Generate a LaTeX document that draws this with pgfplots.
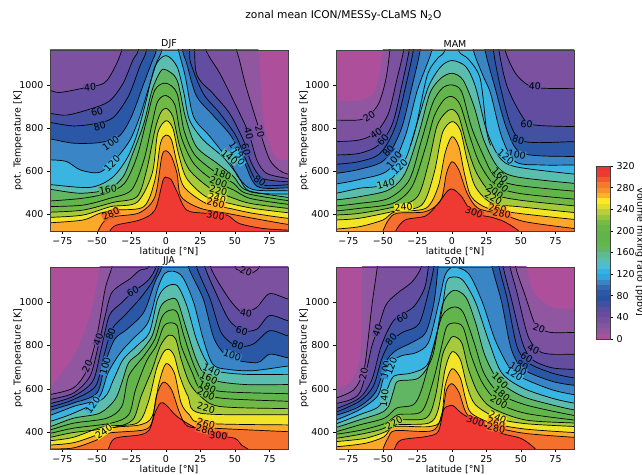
\documentclass[border=0pt]{standalone}
\usepackage{fontspec}
\setmainfont{DejaVu Sans}
\usepackage{pgfplots}
\pgfplotsset{compat=1.18}
\definecolor{c0}{HTML}{AE4F9B}\definecolor{c10}{HTML}{9057A0}\definecolor{c20}{HTML}{7C52A0}
\definecolor{c40}{HTML}{624DA0}\definecolor{c60}{HTML}{4450A2}\definecolor{c80}{HTML}{2A58A6}
\definecolor{c100}{HTML}{3A85C6}\definecolor{c120}{HTML}{3AB4E0}\definecolor{c140}{HTML}{5ABDAE}
\definecolor{c160}{HTML}{60B663}\definecolor{c180}{HTML}{61B54A}\definecolor{c200}{HTML}{70B946}
\definecolor{c220}{HTML}{A5CA3C}\definecolor{c240}{HTML}{F2E528}\definecolor{c260}{HTML}{FCA82A}
\definecolor{c280}{HTML}{F4702C}\definecolor{c300}{HTML}{EE3A33}
\newcommand\fillmode{\def\lv##1##2{\addplot[fill=##1,draw=none,smooth,tension=0.5] coordinates {##2} -- (axis cs:120,100) -- (axis cs:-120,100) -- cycle;}\let\bd\lv}
\newcommand\linemode{\def\lv##1##2{\addplot[black,line width=0.7pt,smooth,tension=0.5] coordinates {##2};}\def\bd##1##2{}}
\newcommand\cl[4]{\node[font=\fontsize{9.5}{10}\selectfont,fill=c#4,inner sep=0.3pt,rotate=#3] at (axis cs:#1,#2) {#4};}
\newcommand\cb[3]{\addplot[fill=#1,draw=none] coordinates {(0,#2)(1,#2)(1,#3)(0,#3)} --cycle;}
\newcommand\curvesDJF{%
\bd{c10}{(-90,1300)(60,1300)(67,1162)(69,950)(71,820)(79,668)(88,652)(95,650)}
\lv{c20}{(-90,1300)(40,1300)(51,1162)(58,992)(68,785)(75,655)(82,605)(88,587)(95,585)}
\lv{c40}{(-90,975)(-84,975)(-77,965)(-60,985)(-45,1008)(-38,1070)(-32,1162)(-28,1300)(26,1300)(29,1162)(39,1054)(51,900)(60,775)(66,650)(73,590)(88,567)(95,566)}
\lv{c60}{(-90,868)(-84,868)(-72,860)(-55,888)(-41,925)(-31,1008)(-24,1115)(-20,1162)(-17,1300)(17,1300)(22,1054)(34,961)(46,869)(56,745)(62,637)(70,567)(88,551)(95,550)}
\lv{c80}{(-90,826)(-84,826)(-67,810)(-50,822)(-38,850)(-27,950)(-19,1085)(-14,1162)(-12,1300)(14,1300)(17,1162)(18,1100)(27,960)(39,869)(51,760)(59,637)(68,540)(88,537)(95,537)}
\lv{c100}{(-90,750)(-84,750)(-67,730)(-48,733)(-34,762)(-25,853)(-16,1008)(-10,1110)(-7,1162)(-5,1300)(10,1300)(12,1162)(15,1100)(22,950)(34,860)(47,765)(56,653)(66,530)(88,523)(95,522)}
\lv{c120}{(-90,653)(-84,653)(-72,645)(-62,606)(-48,595)(-36,660)(-26,745)(-19,853)(-13,977)(-7,1100)(-3,1162)(-1,1300)(4,1300)(9,1162)(14,1039)(20,853)(32,760)(46,645)(53,567)(63,515)(88,509)(95,508)}
\lv{c140}{(-90,538)(-84,538)(-55,525)(-39,570)(-28,662)(-21,770)(-15,910)(-8,1085)(0,1136)(8,1085)(13,962)(17,838)(27,745)(41,668)(51,590)(61,505)(88,494)(95,493)}
\lv{c160}{(-90,516)(-84,516)(-62,498)(-42,516)(-31,575)(-24,683)(-16,822)(-10,977)(-4,1062)(0,1070)(8,1023)(14,853)(22,714)(37,637)(49,575)(58,513)(88,479)(95,479)}
\lv{c180}{(-90,462)(-84,462)(-60,475)(-43,498)(-30,544)(-21,668)(-14,838)(-8,977)(0,1008)(8,961)(13,791)(21,675)(37,590)(49,544)(58,498)(88,464)(95,464)}
\lv{c200}{(-90,436)(-84,436)(-60,443)(-41,474)(-25,513)(-16,652)(-10,822)(-6,923)(0,951)(6.5,907)(11,760)(20,637)(34,559)(49,513)(61,474)(88,447)(95,447)}
\lv{c220}{(-90,410)(-84,410)(-60,420)(-38,456)(-21,482)(-14,606)(-8,791)(-4,869)(0,892)(5,853)(10,714)(17,606)(32,521)(46,482)(61,451)(88,428)(95,428)}
\lv{c240}{(-90,386)(-84,386)(-60,397)(-40,436)(-21,456)(-10,590)(-6,776)(0,834)(5,799)(9,683)(15,567)(29,482)(46,451)(63,428)(88,408)(95,408)}
\lv{c260}{(-90,361)(-84,361)(-60,374)(-48,405)(-36,420)(-16,436)(-8,559)(-4,729)(0,768)(4,745)(8,637)(13,528)(29,451)(46,428)(63,405)(88,382)(95,382)}
\lv{c280}{(-90,250)(-54,250)(-50,312)(-45,366)(-37,390)(-19,408)(-8,482)(-3,668)(0,695)(4,668)(8,590)(11,482)(25,428)(44,405)(63,382)(88,354)(95,354)}
\lv{c300}{(-90,250)(-48,250)(-41,320)(-36,350)(-19,374)(-8,420)(-2,560)(1,570)(4,559)(8,505)(15,420)(29,405)(44,397)(53,358)(70,335)(88,327)(95,326)}
}
\newcommand\curvesMAM{%
\bd{c10}{(-90,927)(-84,927)(-67,927)(-57,960)(-52,1070)(-50,1162)(-49,1300)(95,1300)}
\lv{c20}{(-90,837)(-84,837)(-67,838)(-60,860)(-53,915)(-48,1023)(-45,1162)(-44,1300)(95,1300)}
\lv{c40}{(-90,737)(-84,737)(-67,745)(-55,780)(-46,869)(-40,1023)(-35,1162)(-33,1300)(37,1300)(38.5,1162)(46,1054)(55,1000)(65,985)(88,984)(95,984)}
\lv{c60}{(-90,675)(-84,675)(-67,683)(-53,722)(-43,822)(-36,1008)(-31,1162)(-29,1300)(33,1300)(34,1162)(40,992)(51,853)(59,815)(88,807)(95,807)}
\lv{c80}{(-90,632)(-84,632)(-67,645)(-52,683)(-41,807)(-32.5,1023)(-28,1162)(-26,1300)(29,1300)(30,1162)(35,992)(43,807)(53,737)(88,737)(95,737)}
\lv{c100}{(-90,590)(-84,590)(-67,609)(-49,652)(-37,791)(-29,992)(-23,1162)(-21,1300)(23,1300)(24,1162)(31,992)(40,791)(51,683)(88,668)(95,668)}
\lv{c120}{(-90,541)(-84,541)(-67,562)(-46,606)(-34,760)(-25,977)(-14.5,1162)(-12,1300)(13,1300)(15.5,1162)(22,1050)(28,960)(36,760)(46,644)(65,629)(88,629)(95,629)}
\lv{c120}{(-30,720)(-26,807)(-18,1042)(-11,1119)(-5,1162)(-2,1300)(2,1300)(4.5,1162)(12,1119)(20.5,1028)(25,791)(28,720)}
\lv{c140}{(-90,498)(-84,498)(-67,521)(-48,541)(-34,652)(-26,807)(-17,992)(-8,1085)(0,1113)(10,1085)(17,992)(25,791)(34,668)(46,621)(88,587)(95,587)}
\lv{c160}{(-90,467)(-84,467)(-67,482)(-46,513)(-34,590)(-24,776)(-16,961)(-8,1031)(0,1054)(8,1023)(16,900)(23,745)(33,621)(46,575)(88,544)(95,544)}
\lv{c180}{(-90,439)(-84,439)(-67,451)(-46,474)(-31,559)(-22,745)(-14,915)(-7,985)(0,1000)(7,969)(14,807)(22,683)(31,575)(46,536)(88,508)(95,508)}
\lv{c200}{(-90,416)(-84,416)(-67,428)(-43,451)(-29,528)(-19,714)(-13,853)(-6,930)(0,946)(6,907)(13,760)(20,637)(31,536)(48,498)(88,471)(95,471)}
\lv{c220}{(-90,397)(-84,397)(-67,405)(-41,436)(-25,482)(-17,637)(-11,807)(-5,869)(0,887)(5,853)(11,714)(18,590)(29,498)(48,467)(88,440)(95,440)}
\lv{c240}{(-90,374)(-84,374)(-67,382)(-43,413)(-22,443)(-13,590)(-7,776)(0,830)(6,791)(11,652)(17,528)(29,451)(48,436)(88,409)(95,409)}
\lv{c260}{(-90,332)(-84,332)(-67,343)(-50,374)(-41,413)(-19,428)(-10,528)(-5,683)(0,760)(5,714)(9,590)(14,482)(26,428)(48,405)(88,377)(95,377)}
\lv{c280}{(-90,250)(-54,250)(-50,323)(-46,374)(-40,405)(-19,413)(-8,467)(-4,590)(0,644)(5,606)(11,498)(19,428)(36,402)(53,366)(88,335)(95,334)}
\lv{c300}{(-90,250)(-44,250)(-41,320)(-34,374)(-19,393)(-10,451)(-3,510)(1,516)(7,482)(15,408)(29,386)(38,366)(48,325)(53,280)(95,250)}
}
\newcommand\curvesJJA{%
\bd{c10}{(-90,590)(-84,605)(-67,752)(-55,938)(-48,1162)(-46,1300)(95,1300)}
\lv{c20}{(-90,570)(-84,574)(-67,605)(-57,690)(-50,845)(-44,1062)(-39,1167)(-37,1300)(48,1300)(50,1167)(53,1147)(59,1127)(64,1140)(68,1170)(72,1300)(95,1300)}
\lv{c40}{(-90,545)(-84,551)(-67,581)(-55,659)(-49,799)(-44,938)(-39,1046)(-26,1108)(-19,1147)(-12,1167)(-10,1300)(31,1300)(32,1167)(44,1031)(53,961)(58,954)(66,977)(75,1039)(88,1015)(95,1012)}
\lv{c60}{(-90,528)(-84,532)(-67,566)(-53,636)(-47,783)(-41,938)(-33,992)(-24,1046)(-13,1100)(-7,1167)(-5,1300)(25,1300)(28,1167)(37,1031)(46,915)(56,868)(66,876)(75,938)(88,915)(95,912)}
\lv{c80}{(-90,512)(-84,516)(-67,551)(-51,613)(-45,752)(-39,876)(-30,938)(-19,1015)(-10,1093)(-5,1167)(-3,1300)(20,1300)(22,1167)(32,1015)(40,860)(51,798)(63,806)(75,868)(88,845)(95,843)}
\lv{c100}{(-90,497)(-84,501)(-67,535)(-50,581)(-44,721)(-37,830)(-28,876)(-16,954)(-8,1093)(-3,1163)(-1,1300)(14,1300)(16,1167)(27,1015)(35,830)(46,744)(66,721)(75,760)(88,744)(95,743)}
\lv{c120}{(-90,474)(-84,478)(-67,519)(-49,558)(-42,674)(-33,767)(-24,830)(-13,907)(-6,1062)(-1,1132)(5,1143)(12,1116)(20,1000)(27,830)(34,713)(45,690)(63,684)(88,705)(95,705)}
\lv{c140}{(-90,446)(-84,450)(-67,488)(-45,558)(-38,643)(-31,736)(-21,799)(-12,860)(-6,1015)(0,1070)(8,1077)(15,985)(22,830)(29,729)(37,682)(58,667)(88,667)(95,667)}
\lv{c160}{(-90,423)(-84,426)(-67,465)(-48,488)(-37,550)(-32,628)(-27,721)(-19,767)(-10,845)(-4,977)(2,1012)(8,1008)(14,892)(21,752)(27,675)(37,636)(58,620)(88,620)(95,620)}
\lv{c180}{(-90,409)(-84,411)(-67,442)(-43,465)(-32,519)(-27,659)(-16,752)(-8,830)(-3,930)(2,961)(8,954)(13,845)(20,713)(27,628)(39,589)(88,578)(95,578)}
\lv{c200}{(-90,393)(-84,395)(-67,419)(-40,442)(-27,481)(-22,597)(-14,729)(-7,799)(-2,884)(2,904)(8,892)(11,799)(19,675)(25,597)(39,558)(88,543)(95,543)}
\lv{c220}{(-90,376)(-84,377)(-67,399)(-38,422)(-24,458)(-18,566)(-10,690)(-4,799)(2,848)(7,830)(11,736)(17,628)(25,566)(39,519)(88,509)(95,509)}
\lv{c240}{(-90,360)(-84,361)(-67,377)(-45,426)(-21,442)(-13,535)(-7,690)(-2,767)(2,783)(6,752)(10,659)(16,566)(25,488)(88,481)(95,481)}
\lv{c260}{(-90,340)(-84,341)(-67,352)(-50,388)(-38,422)(-19,434)(-10,473)(-5,628)(0,716)(6,675)(11,535)(17,481)(27,442)(88,434)(95,434)}
\lv{c280}{(-90,310)(-84,322)(-67,328)(-50,365)(-42,396)(-16,411)(-10,450)(-7,566)(-2,631)(4,597)(10,488)(16,427)(34,419)(88,403)(95,403)}
\lv{c300}{(-90,250)(-46,250)(-42,318)(-37,372)(-19,388)(-12,411)(-8,488)(-4,535)(0,527)(8,473)(22,419)(38,385)(50,372)(55,340)(60,320)(65,280)(95,250)}
}
\newcommand\curvesSON{%
\bd{c10}{(-90,595)(-84,597)(-72,643)(-66,783)(-65,1167)(-63,1300)(52,1300)(54,1167)(59,1046)(72,977)(88,969)(95,968)}
\lv{c20}{(-90,555)(-84,558)(-71,597)(-64,682)(-61,814)(-58,985)(-54,1167)(-52,1300)(45,1300)(46,1167)(53,1031)(60,899)(64,876)(72,860)(88,860)(95,860)}
\lv{c40}{(-90,528)(-84,532)(-67,581)(-58,798)(-54,868)(-48,985)(-40,1039)(-29,1093)(-22,1167)(-20,1300)(40,1300)(42,1167)(47,1046)(55,845)(63,775)(72,760)(88,760)(95,760)}
\lv{c60}{(-90,505)(-84,509)(-67,558)(-58,643)(-52,783)(-46,876)(-40,930)(-28,977)(-20,1062)(-17,1167)(-15,1300)(35,1300)(37,1167)(43,1015)(51,814)(58,736)(72,698)(88,690)(95,690)}
\lv{c80}{(-90,489)(-84,493)(-67,543)(-57,612)(-51,736)(-45,814)(-36,860)(-24,899)(-17,1046)(-13,1167)(-11,1300)(32,1300)(34,1167)(40,1015)(47,798)(55,721)(72,674)(88,651)(95,650)}
\lv{c100}{(-90,475)(-84,478)(-67,519)(-55,589)(-48,721)(-41,775)(-29,814)(-19,860)(-13,1000)(-10,1167)(-8,1300)(27,1300)(29,1167)(36,1000)(43,783)(52,690)(72,636)(88,617)(95,617)}
\lv{c120}{(-90,454)(-84,457)(-67,504)(-54,566)(-50,643)(-46,713)(-37,752)(-26,767)(-17,814)(-10,985)(-5,1124)(1,1161)(12,1132)(22,1000)(31,830)(41,705)(51,651)(72,597)(88,574)(95,573)}
\lv{c140}{(-90,436)(-84,439)(-67,481)(-53,519)(-47,597)(-42,659)(-29,674)(-17,721)(-8,938)(-4,1093)(1,1116)(8,1100)(17,1000)(27,814)(36,674)(51,605)(72,558)(88,535)(95,535)}
\lv{c160}{(-90,419)(-84,422)(-67,457)(-52,488)(-46,519)(-42,597)(-39,636)(-24,651)(-14,752)(-7,985)(1,1054)(10,1023)(17,907)(24,752)(34,636)(51,566)(72,527)(88,504)(95,504)}
\lv{c180}{(-90,401)(-84,403)(-67,434)(-49,465)(-40,512)(-28,527)(-22,597)(-14,783)(-7,938)(1,977)(8,954)(16,814)(23,675)(34,581)(53,527)(88,478)(95,478)}
\lv{c200}{(-90,390)(-84,391)(-65,411)(-48,442)(-39,481)(-22,496)(-14,628)(-8,783)(-4,884)(1,904)(8,884)(14,752)(22,628)(34,535)(53,488)(88,457)(95,457)}
\lv{c220}{(-90,371)(-84,372)(-63,395)(-49,419)(-42,457)(-19,465)(-12,566)(-7,752)(-2,822)(1,842)(7,814)(12,690)(19,581)(29,512)(53,457)(88,443)(95,443)}
\lv{c240}{(-90,356)(-84,357)(-63,372)(-48,403)(-41,434)(-17,442)(-10,504)(-5,690)(0,771)(6,736)(11,612)(17,527)(33,465)(53,440)(88,427)(95,427)}
\lv{c260}{(-90,332)(-84,333)(-63,349)(-49,380)(-42,426)(-17,426)(-8,457)(-5,612)(0,693)(6,651)(10,550)(14,488)(29,442)(53,415)(88,399)(95,399)}
\lv{c280}{(-90,250)(-54,250)(-50,323)(-46,377)(-41,408)(-14,408)(-7,493)(-4,594)(0,624)(5,585)(10,493)(17,447)(31,423)(53,395)(88,377)(95,377)}
\lv{c300}{(-90,250)(-46,250)(-42,318)(-37,364)(-19,380)(-10,403)(-6,504)(-2,522)(1,522)(7,488)(17,450)(36,395)(50,372)(60,326)(66,280)(95,250)}
}
\pgfplotsset{panel/.style={
  scale only axis, width=238bp, height=181bp, anchor=south west,
  xmin=-84, xmax=88.4, ymin=323, ymax=1162,
  xtick={-75,-50,-25,0,25,50,75},
  xticklabels={−75,−50,−25,0,25,50,75},
  ytick={400,600,800,1000},
  tick align=outside, tick pos=left,
  major tick length=3bp,
  tick style={black,line width=0.5pt},
  axis line style={line width=0.7pt,draw=black!75},
  /pgf/number format/assume math mode=true,
  /pgf/number format/1000 sep={},
  ticklabel style={font=\fontsize{9.5}{11}\selectfont},
  label style={font=\fontsize{9.5}{11}\selectfont},
  title style={font=\fontsize{9.5}{11}\selectfont,yshift=-7.5bp},
  xlabel={latitude [°N]}, xlabel style={yshift=4bp},
  ylabel={pot. Temperature [K]}, ylabel style={yshift=-10bp},
  axis background/.style={fill=c0},
  axis on top,
}}
\begin{document}
\begin{tikzpicture}[x=1bp,y=1bp]
\path[use as bounding box] (0,0) rectangle (642,475);
\node[font=\fontsize{10.7}{12}\selectfont] at (343.5,459) {zonal mean ICON/MESSy-CLaMS N\textsubscript{2}O};
\begin{axis}[panel,at={(50bp,244bp)},title={DJF}]
\fillmode\curvesDJF\linemode\curvesDJF
\cl{-55}{988}{5}{40}\cl{-50}{876}{15}{60}\cl{-48}{807}{15}{80}\cl{-40}{729}{35}{100}\cl{-39}{636}{45}{120}\cl{-42}{516}{8}{160}\cl{-40}{402}{25}{280}
\cl{68}{785}{-75}{20}\cl{60}{773}{-75}{40}\cl{58}{700}{-75}{60}\cl{51}{699}{-55}{100}\cl{52}{665}{-55}{120}\cl{46}{665}{-40}{140}\cl{68}{556}{-35}{80}
\cl{41}{586}{-20}{180}\cl{38}{549}{-20}{200}\cl{38}{510}{-15}{220}\cl{37}{474}{-15}{240}\cl{36}{451}{-12}{260}\cl{36}{394}{-10}{300}
\end{axis}
\begin{axis}[panel,at={(336bp,244bp)},title={MAM}]
\fillmode\curvesMAM\linemode\curvesMAM
\cl{-60}{853}{35}{20}\cl{-55}{775}{35}{40}\cl{-50}{745}{50}{60}\cl{-46}{694}{50}{80}\cl{-42}{652}{50}{100}\cl{-38}{621}{45}{120}\cl{-48}{541}{15}{140}\cl{-35}{433}{5}{240}
\cl{60}{995}{-3}{40}\cl{54}{819}{-3}{60}\cl{48}{745}{-15}{80}\cl{47}{679}{-10}{100}\cl{39}{668}{-40}{120}\cl{35}{582}{-45}{160}\cl{35}{536}{-40}{180}\cl{31}{505}{-35}{200}\cl{30}{474}{-30}{220}\cl{33}{428}{-10}{260}\cl{36}{402}{-10}{280}\cl{16}{408}{-20}{300}
\end{axis}
\begin{axis}[panel,at={(50bp,26bp)},height=182bp,title={JJA}]
\fillmode\curvesJJA\linemode\curvesJJA
\cl{-57}{705}{65}{20}\cl{-49}{829}{70}{40}\cl{-40}{853}{70}{80}\cl{-44}{705}{75}{100}\cl{-24}{1051}{30}{60}\cl{-53}{527}{55}{120}\cl{-45}{403}{35}{240}
\cl{58}{1140}{-20}{20}\cl{58}{950}{-10}{40}\cl{55}{868}{-15}{60}\cl{52}{799}{-20}{80}\cl{48}{755}{-20}{100}\cl{33}{687}{-25}{140}\cl{31}{651}{-25}{160}\cl{30}{609}{-25}{180}\cl{29}{574}{-25}{200}\cl{29}{512}{-15}{220}\cl{29}{439}{-15}{260}\cl{28}{411}{-15}{280}\cl{38}{385}{-5}{300}
\end{axis}
\begin{axis}[panel,at={(336bp,26bp)},height=182bp,title={SON}]
\fillmode\curvesSON\linemode\curvesSON
\cl{-64}{670}{80}{20}\cl{-54}{868}{70}{40}\cl{-48}{690}{80}{100}\cl{-44}{705}{70}{120}\cl{-44}{829}{50}{80}\cl{-36}{930}{30}{60}\cl{-49}{558}{85}{140}\cl{-42}{445}{30}{220}
\cl{63}{879}{-20}{20}\cl{59}{783}{-25}{40}\cl{54}{744}{-30}{60}\cl{51}{708}{-30}{80}\cl{48}{693}{-30}{100}\cl{45}{667}{-30}{120}\cl{35}{639}{-45}{160}\cl{36}{578}{-40}{180}\cl{34}{538}{-30}{200}\cl{33}{468}{-25}{240}\cl{32}{442}{-20}{260}\cl{32}{419}{-10}{280}\cl{17}{450}{-20}{300}
\end{axis}
\begin{axis}[scale only axis,width=14bp,height=173bp,at={(596bp,136bp)},anchor=south west,
  xmin=0,xmax=1,ymin=0,ymax=320,xtick=\empty,ytick={0,40,80,120,160,200,240,280,320},
  yticklabel pos=right,tick align=outside,major tick length=3bp,
  ytick pos=right,
  tick style={black,line width=0.5pt},axis line style={line width=0.7pt,draw=black!75},
  /pgf/number format/assume math mode=true,
  ticklabel style={font=\fontsize{9.5}{11}\selectfont},axis on top]
\definecolor{b5}{HTML}{AE4F9B}\definecolor{b15}{HTML}{9057A0}\definecolor{b25}{HTML}{8155A0}\definecolor{b35}{HTML}{764FA0}
\definecolor{b45}{HTML}{6A4C9F}\definecolor{b55}{HTML}{5A4DA0}\definecolor{b65}{HTML}{3F4FA2}\definecolor{b75}{HTML}{2552A4}
\definecolor{b85}{HTML}{2A58A6}\definecolor{b95}{HTML}{3269B2}\definecolor{b105}{HTML}{3B84C4}\definecolor{b115}{HTML}{2FA5DF}
\definecolor{b125}{HTML}{33B2E5}\definecolor{b135}{HTML}{4DBDD2}\definecolor{b145}{HTML}{57BEB5}\definecolor{b155}{HTML}{5DBB94}
\definecolor{b165}{HTML}{60B569}\definecolor{b175}{HTML}{62B74A}\definecolor{b185}{HTML}{61B548}\definecolor{b195}{HTML}{61B449}
\definecolor{b205}{HTML}{68B646}\definecolor{b215}{HTML}{75BB45}\definecolor{b225}{HTML}{96C53E}\definecolor{b235}{HTML}{B9CF39}
\definecolor{b245}{HTML}{E1DD2B}\definecolor{b255}{HTML}{FBEA24}\definecolor{b265}{HTML}{FDB127}\definecolor{b275}{HTML}{F7902D}
\definecolor{b285}{HTML}{F47A2C}\definecolor{b295}{HTML}{F15A2B}\definecolor{b305}{HTML}{EF3A31}\definecolor{b315}{HTML}{EE3333}
\cb{b5}{0}{10}\cb{b15}{10}{20}\cb{b25}{20}{30}\cb{b35}{30}{40}\cb{b45}{40}{50}\cb{b55}{50}{60}\cb{b65}{60}{70}\cb{b75}{70}{80}
\cb{b85}{80}{90}\cb{b95}{90}{100}\cb{b105}{100}{110}\cb{b115}{110}{120}\cb{b125}{120}{130}\cb{b135}{130}{140}\cb{b145}{140}{150}\cb{b155}{150}{160}
\cb{b165}{160}{170}\cb{b175}{170}{180}\cb{b185}{180}{190}\cb{b195}{190}{200}\cb{b205}{200}{210}\cb{b215}{210}{220}\cb{b225}{220}{230}\cb{b235}{230}{240}
\cb{b245}{240}{250}\cb{b255}{250}{260}\cb{b265}{260}{270}\cb{b275}{270}{280}\cb{b285}{280}{290}\cb{b295}{290}{300}\cb{b305}{300}{310}\cb{b315}{310}{320}
\end{axis}
\node[font=\fontsize{9.5}{11}\selectfont,rotate=-90] at (640,223) {Volume mixing ratio [ppbv]};
\end{tikzpicture}
\end{document}
